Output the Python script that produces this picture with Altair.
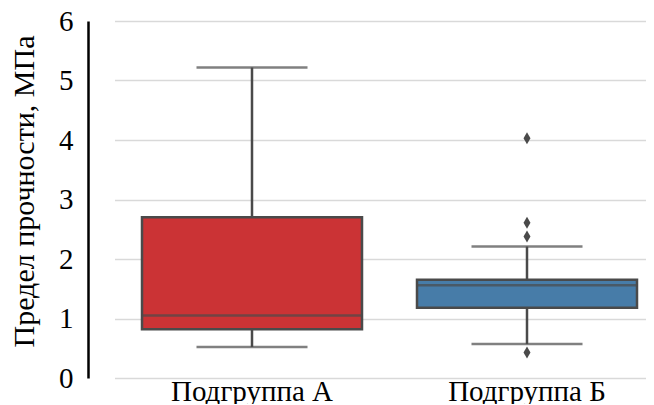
import altair as alt
import pandas as pd

# --- data ---
groups = ["Подгруппа А", "Подгруппа Б"]
whisker_low = [0.52, 0.57]
q1 = [0.82, 1.18]
median = [1.05, 1.56]
q3 = [2.70, 1.65]
whisker_high = [5.22, 2.21]
box_colors = ["#cb3335", "#477ca8"]

outlier_groups = ["Подгруппа Б", "Подгруппа Б", "Подгруппа Б", "Подгруппа Б"]
outlier_values = [4.03, 2.61, 2.38, 0.43]

y_ticks = [0, 1, 2, 3, 4, 5, 6]

stats = pd.DataFrame({
    "group": groups,
    "lo": whisker_low,
    "q1": q1,
    "med": median,
    "q3": q3,
    "hi": whisker_high,
})
outliers = pd.DataFrame({"group": outlier_groups, "value": outlier_values})

FONT = "Liberation Serif, Times New Roman, Times, serif"
LINE = "#4a4a4a"

x_enc = alt.X(
    "group:N",
    sort=groups,
    scale=alt.Scale(domain=groups, range=[1.5, 551.5], paddingInner=0, paddingOuter=0),
    axis=alt.Axis(title=None, labelAngle=0, domain=False, ticks=False, grid=False,
                  labelFont=FONT, labelFontSize=29, labelColor="#000000",
                  labelPadding=-1),
)
y_scale = alt.Scale(domain=[0, 6], nice=False, zero=True)
y_axis = alt.Axis(
    title="Предел прочности, МПа", values=y_ticks, format="d",
    offset=25, ticks=False, labelPadding=15, domainColor="#000000", domainWidth=2.5,
    labelFont=FONT, labelFontSize=29, labelColor="#000000",
    titleFont=FONT, titleFontSize=30, titleFontWeight="normal", titleColor="#000000",
    titlePadding=19, titleY=170,
    grid=True, gridColor="#d9d9d9", gridWidth=1.5,
)

base = alt.Chart(stats)

whiskers = base.mark_rule(color=LINE, strokeWidth=2.5).encode(
    x=x_enc,
    y=alt.Y("lo:Q", scale=y_scale, axis=y_axis),
    y2="hi:Q",
)

caps_lo = base.mark_tick(color=LINE, size=111, thickness=2.5, orient="horizontal").encode(
    x=x_enc, y=alt.Y("lo:Q", scale=y_scale)
)
caps_hi = base.mark_tick(color=LINE, size=111, thickness=2.5, orient="horizontal").encode(
    x=x_enc, y=alt.Y("hi:Q", scale=y_scale)
)

boxes = base.mark_bar(stroke=LINE, strokeWidth=2.5, width=alt.RelativeBandSize(0.8)).encode(
    x=x_enc,
    y=alt.Y("q1:Q", scale=y_scale),
    y2="q3:Q",
    color=alt.Color("group:N", scale=alt.Scale(domain=groups, range=box_colors), legend=None),
)

medians = base.mark_tick(color=LINE, size=221, thickness=2.5, orient="horizontal").encode(
    x=x_enc, y=alt.Y("med:Q", scale=y_scale)
)

points = alt.Chart(outliers).mark_point(
    shape="M0,-1L0.58,0L0,1L-0.58,0Z", filled=True, color=LINE, opacity=1, size=144
).encode(
    x=x_enc, y=alt.Y("value:Q", scale=y_scale)
)

chart = alt.layer(whiskers, caps_lo, caps_hi, boxes, medians, points).properties(
    width=533,
    height=357,
    autosize=alt.AutoSizeParams(type="none"),
    padding={"left": 105, "top": 13, "right": 0, "bottom": 26},
).configure(background="#ffffff", view=alt.ViewConfig(stroke=None))

chart.save("out.html", embed_options={"renderer": "svg", "actions": False})
